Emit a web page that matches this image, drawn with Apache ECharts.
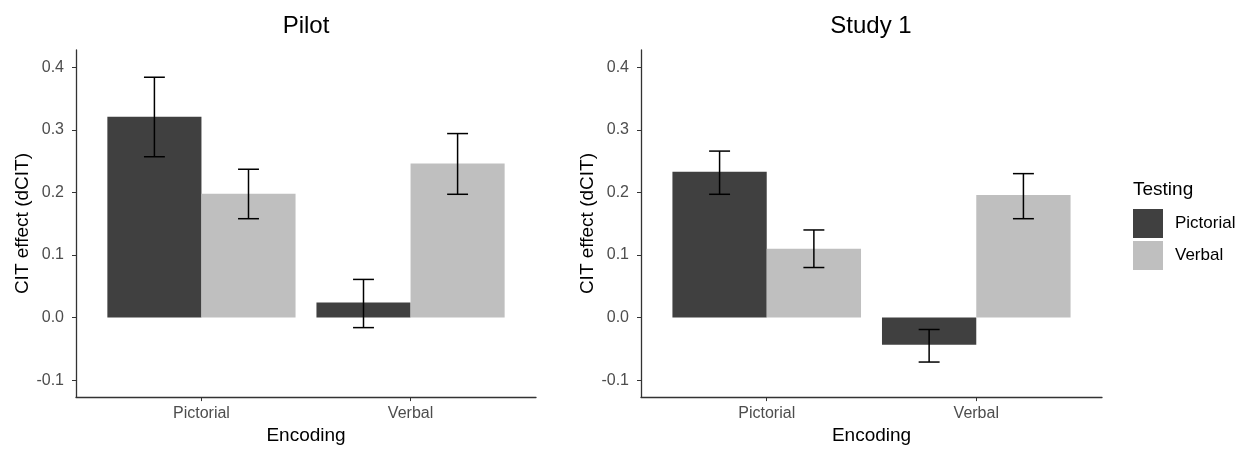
<!DOCTYPE html>
<html>
<head>
<meta charset="utf-8">
<title>CIT effect</title>
<script src="https://cdn.jsdelivr.net/npm/echarts@6/dist/echarts.min.js"></script>
<style>
  html, body { margin: 0; padding: 0; background: #fff; }
  #main { width: 1245px; height: 450px; }
</style>
</head>
<body>
<div id="main"></div>
<script>
// data
const categories = ['Pictorial', 'Verbal']        // Encoding
const testingLevels = ['Pictorial', 'Verbal']     // Testing (legend)
const panelTitles = ['Pilot', 'Study 1']
const yTicks = [-0.1, 0.0, 0.1, 0.2, 0.3, 0.4]

const pilotPictorial = [0.321, 0.024]
const pilotVerbal = [0.198, 0.246]
const pilotPictorialLow = [0.257, -0.016]
const pilotPictorialHigh = [0.384, 0.061]
const pilotVerbalLow = [0.158, 0.197]
const pilotVerbalHigh = [0.237, 0.294]

const study1Pictorial = [0.233, -0.0435]
const study1Verbal = [0.110, 0.196]
const study1PictorialLow = [0.197, -0.071]
const study1PictorialHigh = [0.266, -0.019]
const study1VerbalLow = [0.080, 0.158]
const study1VerbalHigh = [0.140, 0.230]

const colors = { Pictorial: '#404040', Verbal: '#bfbfbf' }
const font = '"Liberation Sans", Arial, sans-serif'

const grids = [
  { left: 76, top: 50, width: 460, height: 349 },
  { left: 641, top: 50, width: 461, height: 349 }
]

const xAxisFor = i => ({
  type: 'value', gridIndex: i, min: -0.6, max: 1.6,
  name: 'Encoding', nameLocation: 'middle', nameGap: 24,
  nameTextStyle: { fontFamily: font, fontSize: 19, color: '#000' },
  axisLine: { onZero: false, lineStyle: { color: '#333', width: 1.3 } },
  axisTick: { length: 4, lineStyle: { color: '#333' }, customValues: [0, 1] },
  axisLabel: {
    customValues: [0, 1], margin: 8, fontFamily: font, fontSize: 16, color: '#4d4d4d',
    formatter: v => categories[Math.round(v)]
  },
  splitLine: { show: false }
})

const yAxisFor = i => ({
  type: 'value', gridIndex: i, min: -0.127, max: 0.4275,
  name: 'CIT effect (dCIT)', nameLocation: 'middle', nameGap: 42,
  nameTextStyle: { fontFamily: font, fontSize: 19, color: '#000' },
  axisLine: { show: true, onZero: false, lineStyle: { color: '#333', width: 1.3 } },
  axisTick: { show: true, length: 4, lineStyle: { color: '#333' }, customValues: yTicks },
  axisLabel: {
    customValues: yTicks, margin: 12, fontFamily: font, fontSize: 16, color: '#4d4d4d',
    formatter: v => v.toFixed(1)
  },
  splitLine: { show: false }
})

const barSeries = (name, values, g) => ({
  type: 'bar', name: name, xAxisIndex: g, yAxisIndex: g,
  data: values.map((v, i) => [i, v]),
  itemStyle: { color: colors[name] },
  barGap: '0%', barCategoryGap: '10%',
  silent: true
})

// side: -1 left (Pictorial testing), +1 right (Verbal testing)
const errorSeries = (low, high, g, side) => ({
  type: 'custom', xAxisIndex: g, yAxisIndex: g, z: 5, silent: true,
  data: low.map((l, i) => [i, l, high[i]]),
  renderItem: (params, api) => {
    const x = api.value(0) + side * 0.225
    const top = api.coord([x, api.value(2)])
    const bot = api.coord([x, api.value(1)])
    const l = api.coord([x - 0.05, 0])[0]
    const r = api.coord([x + 0.05, 0])[0]
    const style = { stroke: '#000', lineWidth: 1.5 }
    return {
      type: 'group',
      children: [
        { type: 'line', shape: { x1: top[0], y1: top[1], x2: bot[0], y2: bot[1] }, style: style },
        { type: 'line', shape: { x1: l, y1: top[1], x2: r, y2: top[1] }, style: style },
        { type: 'line', shape: { x1: l, y1: bot[1], x2: r, y2: bot[1] }, style: style }
      ]
    }
  }
})

const titleFor = (text, cx) => ({
  text: text, left: cx, top: 14, padding: 0, textAlign: 'center',
  textStyle: { fontFamily: font, fontSize: 24, fontWeight: 'normal', color: '#000' }
})

const option = {
  animation: false,
  backgroundColor: '#fff',
  title: [
    titleFor(panelTitles[0], 306),
    titleFor(panelTitles[1], 871),
    { text: 'Testing', left: 1133, top: 180, padding: 0,
      textStyle: { fontFamily: font, fontSize: 19, fontWeight: 'normal', color: '#000' } }
  ],
  legend: {
    data: testingLevels, orient: 'vertical', left: 1133, top: 209, padding: 0,
    itemWidth: 30, itemHeight: 29, itemGap: 3, icon: 'rect', selectedMode: false,
    textStyle: { fontFamily: font, fontSize: 17, color: '#000', padding: [0, 0, 0, 7] }
  },
  grid: grids,
  xAxis: [xAxisFor(0), xAxisFor(1)],
  yAxis: [yAxisFor(0), yAxisFor(1)],
  series: [
    barSeries('Pictorial', pilotPictorial, 0),
    barSeries('Verbal', pilotVerbal, 0),
    errorSeries(pilotPictorialLow, pilotPictorialHigh, 0, -1),
    errorSeries(pilotVerbalLow, pilotVerbalHigh, 0, 1),
    barSeries('Pictorial', study1Pictorial, 1),
    barSeries('Verbal', study1Verbal, 1),
    errorSeries(study1PictorialLow, study1PictorialHigh, 1, -1),
    errorSeries(study1VerbalLow, study1VerbalHigh, 1, 1)
  ]
}

const chart = echarts.init(document.getElementById('main'), null, { renderer: 'canvas' })
chart.setOption(option)
</script>
</body>
</html>
